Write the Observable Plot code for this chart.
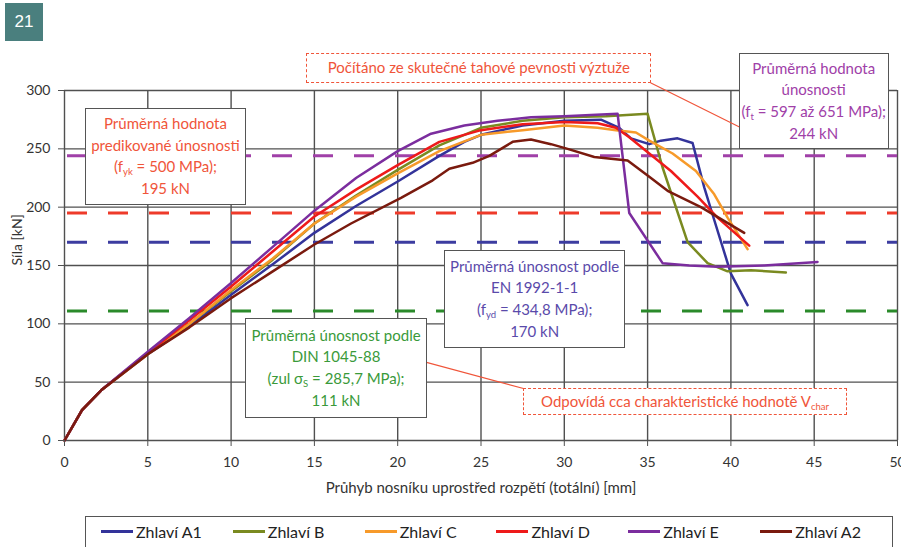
<!DOCTYPE html>
<html><head><meta charset="utf-8">
<script src="https://cdn.jsdelivr.net/npm/d3@7"></script>
<script src="https://cdn.jsdelivr.net/npm/@observablehq/plot@0.6"></script>
<style>
body{margin:0;background:#fff;font-family:Lato,"Open Sans",sans-serif;}
#wrap{position:relative;width:901px;height:547px;overflow:hidden;background:#fff;}
#wrap svg{position:absolute;left:0;top:0;}
.badge{position:absolute;left:5px;top:3px;width:38px;height:38px;background:#4a7f7e;color:#fff;font:17px "Liberation Sans",Arial,sans-serif;display:flex;align-items:center;justify-content:center;}
.note{position:absolute;box-sizing:border-box;background:#fff;border:1.5px solid #555;text-align:center;font-size:15px;line-height:21.7px;display:flex;flex-direction:column;justify-content:center;white-space:nowrap;}
.note.dashed{border:1.5px dashed #f0553a;}
.note sub{font-size:9.5px;vertical-align:-3px;line-height:0;}
.legend{position:absolute;left:85px;top:516px;width:808px;height:44px;box-sizing:border-box;border:1.5px solid #555;border-bottom:none;padding-left:15px;display:flex;align-items:flex-start;padding-top:5px;}
.item{width:132px;display:flex;align-items:center;font-size:16px;color:#222;}
.sw{width:32px;height:3px;margin-right:3px;}
</style>
</head><body>
<div id="wrap"><div class="badge">21</div></div>
<script>
// ---- data ----
const seriesNames = ["Zhlaví A1","Zhlaví B","Zhlaví C","Zhlaví D","Zhlaví E","Zhlaví A2"];

const a1Defl  = [0,1.05,2.2,5,7.5,10,12.5,15,17.5,20,22.5,24,25,27.5,30,32.2,33.3,34,35.1,35.8,36.8,37.7,38.4,39,40,41];
const a1Force = [0,26,43,74,98,125,151,178,201,222,244,256,262,270,274,275,268,259,254,257,259,255,217,189,143,116];

const bDefl  = [0,1.05,2.2,5,7.5,10,12.5,15,17.5,20,22.5,25,27.5,30,32.5,35,35.9,37.4,38.6,39.8,41.2,43.3];
const bForce = [0,26,43,75,100,128,155,186,210,232,253,268,274,277,278,280,234,170,152,145,146,144];

const cDefl  = [0,1.05,2.2,5,7.5,10,12.5,15,17.5,20,22.5,25,27.5,30,32,33.1,34.3,35.1,36.5,37.9,39,39.8,41];
const cForce = [0,26,43,74,100,129,156,186,209,229,248,262,266,270,268,266,264,257,246,231,211,191,164];

const dDefl  = [0,1.05,2.2,5,7.5,10,12.5,15,17.5,20,22.5,25,27.5,30,32,33.1,33.9,35.1,36.4,38,39.2,41.1];
const dForce = [0,26,43,75,103,132,162,192,215,236,256,266,271,273,272,268,260,246,231,209,191,167];

const eDefl  = [0,1.05,2.2,5,7.5,10,12.5,15,17.5,20,22,24,26,28,30,33.2,33.9,35.9,37.5,39.2,42,45.2];
const eForce = [0,26,43,76,105,135,166,197,225,248,263,270,274,277,278,280,195,152,150,149,150,153];

const a2Defl  = [0,1.05,2.2,5,7.5,10,12.5,15,17.2,20.2,22.1,23.1,24.5,25.5,26.9,28,29.2,30.2,31.8,33.8,35.2,36.2,38.2,40.8];
const a2Force = [0,26,43,74,97,122,145,168,186,208,223,233,238,244,256,258,254,250,243,240,225,214,200,178];

const refValues = [244,195,170,111];   // kN
const xTicks = [0,5,10,15,20,25,30,35,40,45,50];
const yTicks = [0,50,100,150,200,250,300];

// ---- styles ----
const seriesColors = ["#33339a","#7a8a20","#f79a2a","#ee1a1a","#7b2d9e","#7a1a0e"];
const refColors = ["#a040a8","#ee3a2a","#3c3ca0","#2a8a2a"];
const noteRed = "#f0553a";

const series = [
  [a1Defl,a1Force],[bDefl,bForce],[cDefl,cForce],[dDefl,dForce],[eDefl,eForce],[a2Defl,a2Force]
].map(([dx,fy],k)=>({name:seriesNames[k],defl:dx,force:fy}));
const rows = series.flatMap(s=>s.defl.map((d,i)=>({series:s.name,defl:d,force:s.force[i]})));

const arrows = [
  {x1:35.2,y1:306.5,x2:41.6,y2:261},
  {x1:27.55,y1:44.6,x2:20.17,y2:72.9}
];

const chart = Plot.plot({
  width:901, height:505,
  marginTop:90, marginLeft:64, marginRight:4, marginBottom:65,
  style:{fontFamily:"Lato, 'Open Sans', sans-serif", fontSize:"14px", color:"#333", overflow:"visible", background:"transparent"},
  x:{domain:[0,50]},
  y:{domain:[0,300]},
  color:{domain:seriesNames, range:seriesColors},
  marks:[
    Plot.gridX(xTicks,{stroke:"#505050",strokeOpacity:1,strokeWidth:1.4}),
    Plot.gridY(yTicks,{stroke:"#505050",strokeOpacity:1,strokeWidth:1.4}),
    ...refValues.map((v,i)=>Plot.ruleY([v],{stroke:refColors[i],strokeWidth:3,strokeDasharray:"20,21",strokeDashoffset:-3})),
    Plot.line(rows,{x:"defl",y:"force",z:"series",stroke:"series",strokeWidth:2.5,strokeLinejoin:"round"}),
    Plot.axisX(xTicks,{tickSize:6,tickPadding:11,stroke:"#505050",label:null,fontSize:14}),
    Plot.axisY(yTicks,{tickSize:6,tickPadding:8,stroke:"#505050",label:null,fontSize:14}),
    Plot.text(["Síla [kN]"],{frameAnchor:"left",dx:-47,rotate:-90,fontSize:14,fill:"#333"}),
    Plot.text(["Průhyb nosníku uprostřed rozpětí (totální) [mm]"],{frameAnchor:"bottom",dy:52,fontSize:15,fill:"#333"}),
    Plot.arrow(arrows,{x1:"x1",y1:"y1",x2:"x2",y2:"y2",stroke:noteRed,strokeWidth:1.2,headLength:7})
  ]
});
const wrap = document.getElementById("wrap");
wrap.insertBefore(chart, wrap.firstChild);

const X = chart.scale("x"), Y = chart.scale("y");
const notes = [
  {x1:1.26,x2:10.92,y1:284.6,y2:201.4,color:noteRed,dashed:false,lines:["Průměrná hodnota","predikované únosnosti","(f<sub>yk</sub> = 500 MPa);","195 kN"]},
  {x1:14.55,x2:35.25,y1:331.7,y2:306,color:noteRed,dashed:true,lines:["Počítáno ze skutečné tahové pevnosti výztuže"]},
  {x1:40.5,x2:49.5,y1:331.7,y2:249.4,color:"#a040a8",dashed:false,lines:["Průměrná hodnota","únosnosti","(f<sub>t</sub> = 597 až 651 MPa);","244 kN"]},
  {x1:22.8,x2:33.7,y1:162.9,y2:78.9,color:"#5a4aaa",dashed:false,lines:["Průměrná únosnost podle","EN 1992-1-1","(f<sub>yd</sub> = 434,8 MPa);","170 kN"]},
  {x1:10.86,x2:21.8,y1:104.6,y2:18.9,color:"#3a9a3a",dashed:false,lines:["Průměrná únosnost podle","DIN 1045-88","(zul σ<sub>S</sub> = 285,7 MPa);","111 kN"]},
  {x1:27.55,x2:47,y1:44.6,y2:21.4,color:noteRed,dashed:true,lines:["Odpovídá cca charakteristické hodnotě V<sub>char</sub>"]}
];
for (const n of notes){
  const d = document.createElement("div");
  d.className = "note"+(n.dashed?" dashed":"");
  const l = X.apply(n.x1), r = X.apply(n.x2), t = Y.apply(n.y1), b = Y.apply(n.y2);
  Object.assign(d.style,{left:l+"px",top:t+"px",width:(r-l)+"px",height:(b-t)+"px",color:n.color});
  d.innerHTML = n.lines.map(s=>"<div>"+s+"</div>").join("");
  wrap.appendChild(d);
}
const leg = document.createElement("div");
leg.className = "legend";
seriesNames.forEach((nm,i)=>{
  const it = document.createElement("div"); it.className="item";
  it.innerHTML = `<span class="sw" style="background:${seriesColors[i]}"></span><span>${nm}</span>`;
  leg.appendChild(it);
});
wrap.appendChild(leg);
</script>
</body></html>
